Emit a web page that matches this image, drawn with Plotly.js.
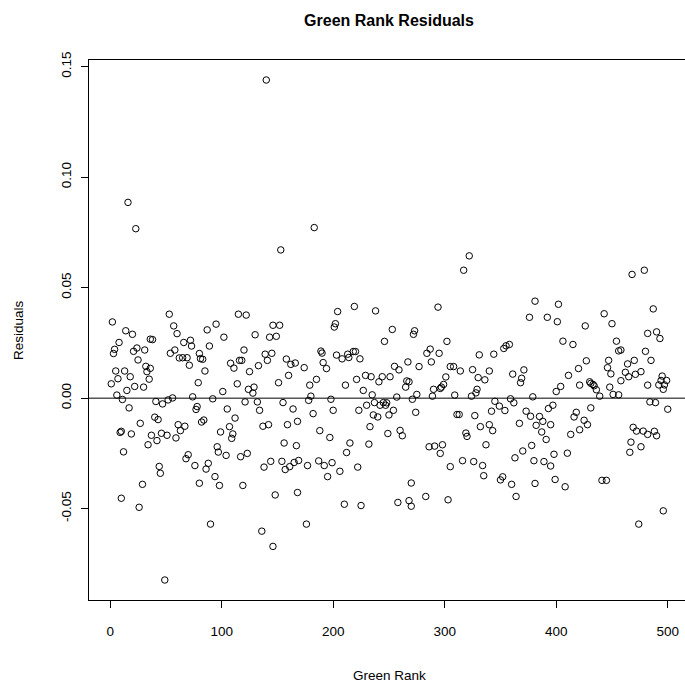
<!DOCTYPE html>
<html>
<head>
<meta charset="utf-8">
<script src="https://cdn.plot.ly/plotly-3.0.1.min.js"></script>
<style>
html, body { margin: 0; padding: 0; background: #fff; overflow: hidden; }
#chart { width: 700px; height: 688px; }
</style>
</head>
<body>
<div id="chart"></div>
<script>
// Green Rank (x)
const greenRank = [
  16,23,2,14,20,8,36,4,3,21,24,31,25,32,33,5,13,18,7,1,22,30,15,6,11,35,17,27,9,10,19,37,34,12,29,10,26,
  53,57,60,38,66,72,73,54,58,62,65,69,71,80,81,36,79,41,47,52,56,74,78,77,40,43,61,67,63,42,46,51,59,70,68,76,44,45,80,49,
  115,122,95,87,102,89,120,83,116,118,108,111,85,125,114,124,101,92,121,105,84,82,112,107,99,110,109,96,97,104,123,117,88,86,94,98,119,90,
  153,146,152,130,143,149,139,145,141,133,158,162,166,160,151,129,128,132,134,155,164,168,137,142,159,156,167,138,144,154,157,161,165,169,148,168,136,146,140,
  183,204,202,201,189,190,191,194,203,208,213,214,174,185,179,211,180,178,198,200,182,188,197,215,212,177,187,192,199,195,206,210,176,
  219,238,253,246,218,220,224,221,229,234,241,244,251,255,259,227,235,257,223,230,237,242,245,247,248,254,236,240,250,233,249,260,232,222,225,258,
  294,273,272,302,284,287,295,288,267,277,305,266,268,265,301,299,297,296,290,289,275,271,274,262,286,291,298,296,305,270,268,270,283,303,
  322,317,331,344,308,314,325,340,330,336,309,324,328,329,345,349,311,313,327,342,340,343,332,319,320,337,316,326,334,335,350,
  381,376,392,358,355,353,361,371,369,368,359,362,379,354,373,377,385,388,382,393,395,367,387,391,378,370,363,380,389,395,352,360,381,364,
  402,401,426,406,415,427,420,411,430,431,433,434,436,421,404,400,439,397,431,418,416,425,428,421,413,398,410,399,408,
  468,479,443,450,487,482,454,456,458,480,485,447,446,449,464,470,462,465,471,476,458,448,451,456,482,484,469,472,478,482,467,466,476,441,445,474,
  490,493,495,494,499,492,497,496,500,489,488,490,496
];
// Residuals
const residuals = [
  0.0886,0.0767,0.0345,0.0305,0.0289,0.0252,0.0267,0.0221,0.0202,0.0212,0.0227,0.0218,0.0173,0.0144,0.012,0.0123,0.0123,0.0097,0.0088,0.0065,0.0053,0.005,0.0035,0.0014,-0.0006,0.0086,-0.0044,-0.0114,-0.0155,-0.015,-0.0162,-0.0168,-0.0211,-0.0243,-0.039,-0.0453,-0.0494,
  0.038,0.0327,0.0292,0.0265,0.0252,0.0262,0.0236,0.0203,0.0218,0.0182,0.0183,0.0183,0.0149,0.0202,0.0179,0.0135,0.007,-0.0015,-0.0026,-0.0008,0.0001,0.0006,-0.0038,-0.0051,-0.0086,-0.0097,-0.012,-0.0127,-0.0147,-0.0192,-0.0159,-0.0168,-0.018,-0.0256,-0.0274,-0.0305,-0.0309,-0.034,-0.0385,-0.0823,
  0.038,0.0376,0.0335,0.0309,0.0276,0.0236,0.0218,0.0176,0.0171,0.0171,0.0158,0.0136,0.0123,0.012,0.0065,0.004,0.003,-0.0003,-0.0017,-0.0049,-0.0099,-0.0108,-0.009,-0.0129,-0.0153,-0.0162,-0.0182,-0.022,-0.0244,-0.0259,-0.025,-0.0265,-0.0295,-0.0321,-0.0355,-0.0395,-0.0395,-0.057,
  0.0671,0.033,0.033,0.0287,0.0276,0.028,0.0199,0.0203,0.0171,0.0147,0.0177,0.0153,0.0159,0.0103,0.007,0.005,0.0023,-0.0017,-0.0055,-0.002,-0.0049,-0.0105,-0.0127,-0.012,-0.012,-0.0203,-0.0215,-0.0312,-0.0286,-0.0286,-0.0323,-0.031,-0.0291,-0.0282,-0.0438,-0.0427,-0.0602,-0.0671,0.144,
  0.0772,0.0392,0.0337,0.0322,0.0213,0.0204,0.0161,0.0134,0.0195,0.0178,0.0199,0.0184,0.0138,0.0085,0.0059,0.0059,0.0009,-0.001,-0.0005,-0.0055,-0.007,-0.0147,-0.0178,-0.0203,-0.0246,-0.0305,-0.0284,-0.0305,-0.0292,-0.0355,-0.0331,-0.048,-0.057,
  0.0415,0.0395,0.0311,0.0257,0.0211,0.0211,0.0178,0.0085,0.0103,0.0097,0.0074,0.0097,0.0097,0.0144,0.0128,0.0035,0.0015,0.0005,-0.0055,-0.0032,-0.002,-0.0032,-0.002,-0.0032,-0.0021,-0.0055,-0.0076,-0.0085,-0.0076,-0.0129,-0.016,-0.0146,-0.0208,-0.0312,-0.0486,-0.0472,
  0.0412,0.0305,0.0289,0.0257,0.0203,0.0222,0.0203,0.0164,0.0164,0.0143,0.0143,0.0078,0.0074,0.005,0.0096,0.0062,0.005,0.0044,0.004,0.0009,0.0017,-0.0005,-0.0064,-0.017,-0.022,-0.0217,-0.0211,-0.025,-0.031,-0.0384,-0.0464,-0.0489,-0.0445,-0.046,
  0.0644,0.0579,0.0196,0.0199,0.0143,0.0123,0.0129,0.0123,0.0093,0.0083,0.0014,0.0009,0.0024,0.004,-0.0014,-0.0036,-0.0074,-0.0074,-0.0079,-0.0059,-0.012,-0.0147,-0.0129,-0.0158,-0.0173,-0.0211,-0.0283,-0.0287,-0.0305,-0.0351,-0.037,
  0.0439,0.0366,0.0366,0.0243,0.0237,0.0225,0.0109,0.0128,0.009,0.007,-0.0003,-0.0021,0.0006,-0.0056,-0.0059,-0.0082,-0.0083,-0.0105,-0.0123,-0.0047,-0.012,-0.0114,-0.0153,-0.0187,-0.0214,-0.0239,-0.027,-0.0283,-0.0287,-0.0307,-0.0356,-0.039,-0.0386,-0.0445,
  0.0425,0.0346,0.0327,0.0258,0.0243,0.0169,0.0134,0.0103,0.0074,0.0067,0.0062,0.0056,0.0038,0.0059,0.0053,0.003,0.0009,-0.0032,-0.0044,-0.0064,-0.0085,-0.01,-0.012,-0.0143,-0.0164,-0.0254,-0.0249,-0.0368,-0.0401,
  0.056,0.0579,0.0382,0.0337,0.0404,0.0293,0.0258,0.0214,0.0218,0.0212,0.0171,0.0171,0.0138,0.011,0.0155,0.0171,0.0117,0.0097,0.0108,0.012,0.0079,0.005,0.0017,0.0015,0.0059,-0.0017,-0.0132,-0.0149,-0.0149,-0.0164,-0.0199,-0.0245,-0.022,-0.0372,-0.0372,-0.057,
  0.030,0.027,0.010,0.008,0.008,0.006,0.006,0.004,-0.005,-0.002,-0.015,-0.017,-0.051
];
const xTicks = [0, 100, 200, 300, 400, 500];
const yTicks = [-0.05, 0.00, 0.05, 0.10, 0.15];
const yTickText = ["-0.05", "0.00", "0.05", "0.10", "0.15"];

const n = 500;
const xr = [1 - 0.04 * (n - 1), n + 0.04 * (n - 1)];
const ymin = Math.min(...residuals), ymax = Math.max(...residuals);
const yr = [ymin - 0.04 * (ymax - ymin), ymax + 0.04 * (ymax - ymin)];

const font = "Liberation Sans, Arial, Helvetica, sans-serif";

const trace = {
  x: greenRank, y: residuals, type: "scatter", mode: "markers",
  marker: { symbol: "circle-open", size: 6.5, color: "#000", line: { width: 1, color: "#000" } },
  hoverinfo: "skip"
};

const layout = {
  width: 700, height: 688,
  margin: { l: 89, r: 10, t: 60, b: 88, pad: 0 },
  paper_bgcolor: "#fff", plot_bgcolor: "#fff",
  showlegend: false,
  font: { family: font, size: 13.5, color: "#000" },
  title: { text: "<b>Green Rank Residuals</b>", font: { family: font, size: 16, color: "#000" },
           x: 389 / 700, xref: "container", xanchor: "center", y: 1 - 20 / 688, yref: "container", yanchor: "middle" },
  xaxis: {
    range: xr, tickvals: xTicks, ticktext: xTicks.map(String), ticks: "outside", ticklen: 7, tickwidth: 1, tickcolor: "#000",
    showline: true, mirror: true, linecolor: "#000", linewidth: 1, showgrid: false, zeroline: false,
    tickfont: { family: font, size: 13.5, color: "#000" }, ticklabelstandoff: 12
  },
  yaxis: {
    range: yr, tickvals: yTicks, ticktext: yTickText, ticks: "outside", ticklen: 7, tickwidth: 1, tickcolor: "#000",
    showline: true, mirror: true, linecolor: "#000", linewidth: 1, showgrid: false, zeroline: false,
    tickangle: -90, tickfont: { family: font, size: 13.5, color: "#000" }, ticklabelstandoff: 5
  },
  shapes: [{ type: "line", xref: "paper", x0: 0, x1: 1, yref: "y", y0: 0, y1: 0, line: { color: "#000", width: 1 } }],
  annotations: [
    { text: "Green Rank", xref: "paper", yref: "paper", x: (389 - 89) / 601, y: (600 - 675) / 540, showarrow: false,
      xanchor: "center", yanchor: "middle", font: { family: font, size: 13.5, color: "#000" } },
    { text: "Residuals", xref: "paper", yref: "paper", x: (18 - 89) / 601, y: (600 - 330) / 540, showarrow: false,
      textangle: -90, xanchor: "center", yanchor: "middle", font: { family: font, size: 13.5, color: "#000" } }
  ]
};

Plotly.newPlot("chart", [trace], layout, { displayModeBar: false, staticPlot: true });
</script>
</body>
</html>
